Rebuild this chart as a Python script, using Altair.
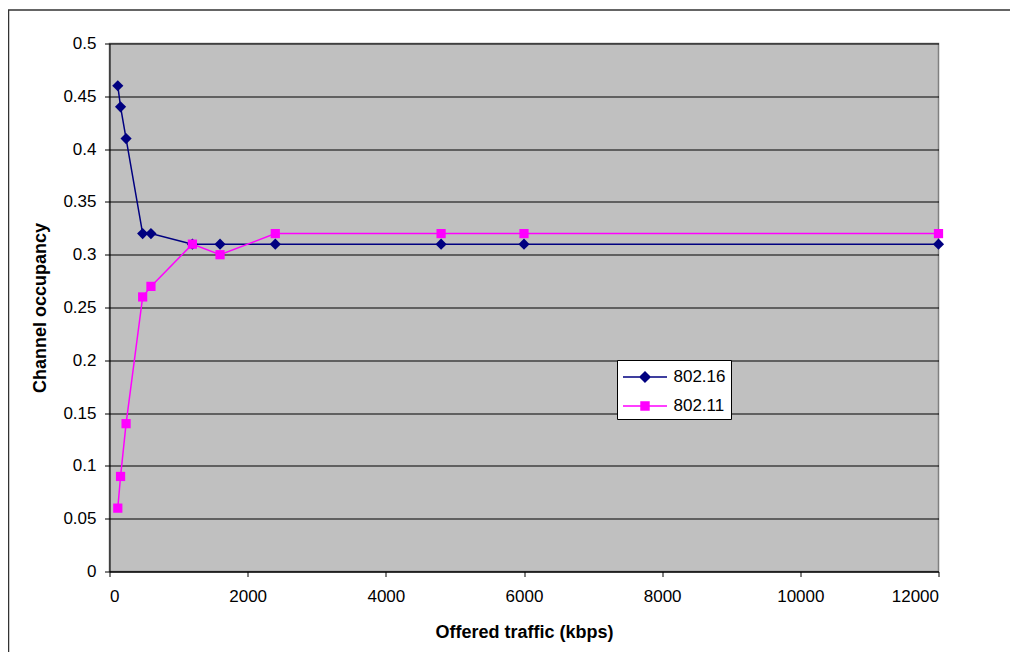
import altair as alt
import pandas as pd

# ---- data ----
traffic = [120, 160, 240, 480, 600, 1200, 1600, 2400, 4800, 6000, 12000]
occ_80216 = [0.46, 0.44, 0.41, 0.32, 0.32, 0.31, 0.31, 0.31, 0.31, 0.31, 0.31]
occ_80211 = [0.06, 0.09, 0.14, 0.26, 0.27, 0.31, 0.30, 0.32, 0.32, 0.32, 0.32]
series_names = ["802.16", "802.11"]
series_colors = ["#000080", "#FF00FF"]
series_shapes = ["diamond", "square"]
series_sizes = [125, 85]
x_ticks = [0, 2000, 4000, 6000, 8000, 10000, 12000]
y_ticks = [0, 0.05, 0.1, 0.15, 0.2, 0.25, 0.3, 0.35, 0.4, 0.45, 0.5]

rows = []
for name, vals in zip(series_names, [occ_80216, occ_80211]):
    for t, v in zip(traffic, vals):
        rows.append({"traffic": t, "occ": v, "series": name})
df = pd.DataFrame(rows)

FONT = "Liberation Sans"
W, H = 829, 528

color_scale = alt.Scale(domain=series_names, range=series_colors)
# legend symbols: a line with the marker in its middle
legend_paths = [
    "M-1,0H3M1,-0.45L1.45,0L1,0.45L0.55,0Z",
    "M-1,0H3M0.64,-0.36H1.36V0.36H0.64Z",
]
legend_shape_scale = alt.Scale(domain=series_names, range=legend_paths)

x_enc = alt.X(
    "traffic:Q",
    scale=alt.Scale(domain=[0, 12000], nice=False, zero=False),
    axis=alt.Axis(
        values=x_ticks, format="d", grid=False,
        title="Offered traffic (kbps)",
        titleX=W / 2, titleY=66, titleBaseline="alphabetic", titleAlign="center",
        labelPadding=11.5,
    ),
)
y_enc = alt.Y(
    "occ:Q",
    scale=alt.Scale(domain=[0, 0.5], nice=False),
    axis=alt.Axis(
        values=y_ticks, format="~g", grid=True, gridColor="black", gridWidth=1,
        title="Channel occupancy",
        titleX=-64, titleY=H / 2, titleAngle=-90, titleBaseline="alphabetic",
        titleAlign="center", labelPadding=8.5,
    ),
)

legend = alt.Legend(
    title=None, orient="none", legendX=507.5, legendY=316.5,
    fillColor="white", strokeColor="black", padding=5,
    symbolSize=484, symbolStrokeWidth=1.5, symbolOpacity=1,
    labelFont=FONT, labelFontSize=17, labelColor="black",
    labelOffset=27.5, rowPadding=9,
)

base = alt.Chart(df)

border = alt.Chart(pd.DataFrame({"k": [0]})).mark_rect(
    fill=None, stroke="#333333", strokeWidth=1.5
).encode(
    x=alt.value(8.5 - 109.5), x2=alt.value(1100),
    y=alt.value(10 - 43.5), y2=alt.value(800),
)

layers = [border]
for name, col in zip(series_names, series_colors):
    layers.append(
        base.transform_filter(alt.datum.series == name)
        .mark_line(strokeWidth=1.5, color=col)
        .encode(x=x_enc, y=y_enc)
    )
for name, col, shp, sz in zip(series_names, series_colors, series_shapes, series_sizes):
    layers.append(
        base.transform_filter(alt.datum.series == name)
        .mark_point(filled=True, opacity=1, shape=shp, size=sz, color=col)
        .encode(x=x_enc, y=y_enc)
    )

# invisible layer that only carries the legend
legend_layer = base.mark_point(opacity=0, strokeWidth=1.5).encode(
    x=x_enc, y=y_enc,
    fill=alt.Fill("series:N", scale=color_scale, legend=legend),
    stroke=alt.Stroke("series:N", scale=color_scale, legend=legend),
    shape=alt.Shape("series:N", scale=legend_shape_scale, legend=legend),
)
layers.append(legend_layer)

chart = alt.layer(*layers).properties(
    width=W, height=H,
    autosize=alt.AutoSizeParams(type="none"),
    padding={"left": 101.5, "top": 35.5, "right": 71.5, "bottom": 80},
    background="white",
).configure_view(
    fill="#C0C0C0", stroke="#808080", strokeWidth=1.5,
).configure_axis(
    labelFont=FONT, labelFontSize=17, labelColor="black",
    titleFont=FONT, titleFontSize=18, titleFontWeight="bold", titleColor="black",
    domainColor="black", domainWidth=1, tickColor="black", tickSize=5, tickWidth=1,
)

chart.save("out.html", embed_options={"renderer": "svg", "actions": False})
